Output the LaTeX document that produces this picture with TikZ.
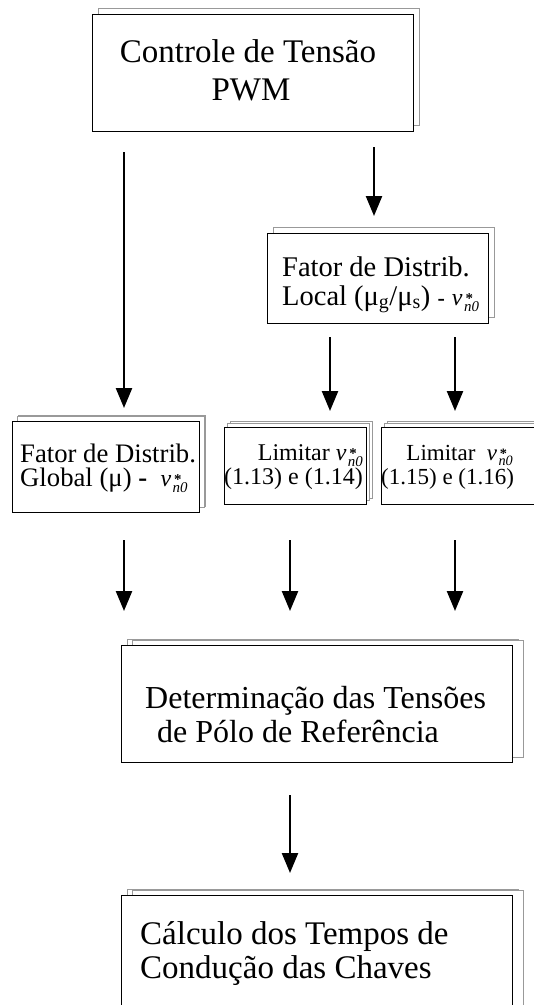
\documentclass[tikz,border=0pt]{standalone}
\usepackage{amsmath}
\usepackage{fontspec}
\setmainfont{Liberation Serif}
\usetikzlibrary{arrows.meta,shadows}
\newcommand{\vnz}{\textit{v}\kern0.06em\raisebox{-0.55ex}{\scalebox{0.62}{\shortstack[l]{\kern0.1em\textbf{*}\\[-0.55ex]\textit{n0}}}}}
\begin{document}
\begin{tikzpicture}[x=1pt,y=-1pt,
  stackbox/.style={draw=black, line width=1.1pt, fill=white, rectangle, inner sep=0pt, anchor=north west,
     copy shadow={shadow xshift=6pt, shadow yshift=6pt, draw=black!40, fill=white, line width=0.9pt}},
  wideshadow/.style={copy shadow={shadow xshift=11pt, shadow yshift=5pt, draw=black!40, fill=white, line width=0.9pt}},
  lbl/.style={inner sep=0pt},
  arr/.style={line width=2.4pt, -{Triangle[width=16pt,length=20pt]}}]
\useasboundingbox (0,0) rectangle (534,1005);

% boxes
\node[stackbox, minimum width=321pt, minimum height=117pt] (b1) at (92,14) {};
\node[stackbox, minimum width=221pt, minimum height=90pt] (b2) at (267,233) {};
\node[stackbox, copy shadow={shadow xshift=5pt, shadow yshift=5pt, draw=black!40, fill=white, line width=0.9pt}, minimum width=187pt, minimum height=91pt] (bA) at (12,421) {};
\node[stackbox, copy shadow={shadow xshift=3pt, shadow yshift=4pt, draw=black!40, fill=white, line width=0.9pt}, minimum width=142pt, minimum height=77pt] (bB) at (224,427) {};
\node[stackbox, copy shadow={shadow xshift=3pt, shadow yshift=4pt, draw=black!40, fill=white, line width=0.9pt}, minimum width=160pt, minimum height=77pt] (bC) at (381,427) {};
\node[stackbox, wideshadow, minimum width=391pt, minimum height=117pt] (bD) at (121,645) {};
\node[stackbox, wideshadow, minimum width=391pt, minimum height=130pt] (bE) at (121,895) {};

% texts
\node[lbl, anchor=base, font=\fontsize{33}{38}\selectfont] (t1a) at (248,62) {Controle de Tensão};
\node[lbl, anchor=base, font=\fontsize{33}{38}\selectfont] (t1b) at (251,100) {PWM};

\node[lbl, anchor=base, font=\fontsize{28.5}{30}\selectfont] (t2a) at (376,276) {Fator de Distrib.};
\node[lbl, anchor=base west, font=\fontsize{28.5}{30}\selectfont] (t2b) at (282,305) {Local (μ\textsubscript{g}/μ\textsubscript{s}) {\fontsize{22}{24}\selectfont\bfseries -} {\fontsize{24}{26}\selectfont\vnz}};

\node[lbl, anchor=base west, font=\fontsize{26.7}{28}\selectfont] (tAa) at (20,462) {Fator de Distrib.};
\node[lbl, anchor=base west, font=\fontsize{26.7}{28}\selectfont] (tAb) at (20,486) {Global (μ) {\bfseries -}\ \ {\fontsize{24}{26}\selectfont\vnz}};

\node[lbl, anchor=base east, font=\fontsize{24}{26}\selectfont] (tBa) at (363,460) {Limitar \vnz};
\node[lbl, anchor=base west, font=\fontsize{24}{26}\selectfont] (tBb) at (224,484) {(1.13) e (1.14)};

\node[lbl, anchor=base east, font=\fontsize{23}{25}\selectfont] (tCa) at (513,460) {Limitar\ \ \vnz};
\node[lbl, anchor=base west, font=\fontsize{23}{25}\selectfont] (tCb) at (381,484) {(1.15) e (1.16)};

\node[lbl, anchor=base west, font=\fontsize{32}{34}\selectfont] (tDa) at (145,708) {Determinação das Tensões};
\node[lbl, anchor=base west, font=\fontsize{32}{34}\selectfont] (tDb) at (157,742) {de Pólo de Referência};

\node[lbl, anchor=base west, font=\fontsize{33}{34}\selectfont] (tEa) at (140,944) {Cálculo dos Tempos de};
\node[lbl, anchor=base west, font=\fontsize{33}{34}\selectfont] (tEb) at (140,978) {Condução das Chaves};

% arrow ends
\coordinate (p1s) at (124,152); \coordinate (p1e) at (124,408);
\coordinate (p2s) at (374,147); \coordinate (p2e) at (374,216);
\coordinate (p3s) at (330,337); \coordinate (p3e) at (330,411);
\coordinate (p4s) at (455,337); \coordinate (p4e) at (455,411);
\coordinate (p5s) at (124,540); \coordinate (p5e) at (124,611);
\coordinate (p6s) at (290,540); \coordinate (p6e) at (290,611);
\coordinate (p7s) at (455,540); \coordinate (p7e) at (455,611);
\coordinate (p8s) at (290,795); \coordinate (p8e) at (290,873);

\draw[arr] (p1s) -- (p1e);
\draw[arr] (p2s) -- (p2e);
\draw[arr] (p3s) -- (p3e);
\draw[arr] (p4s) -- (p4e);
\draw[arr] (p5s) -- (p5e);
\draw[arr] (p6s) -- (p6e);
\draw[arr] (p7s) -- (p7e);
\draw[arr] (p8s) -- (p8e);
\end{tikzpicture}
\end{document}
